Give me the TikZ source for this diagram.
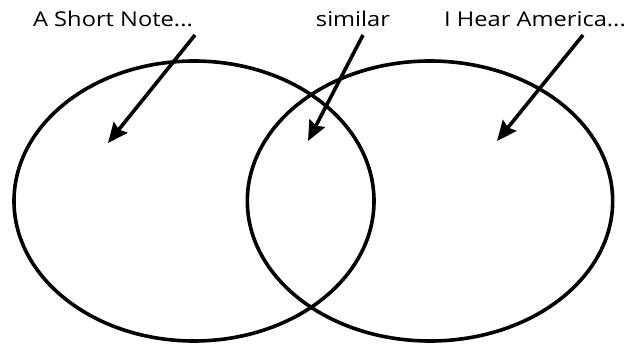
\documentclass[tikz,border=0pt]{standalone}
\usepackage{fontspec}
\setmainfont{Open Sans}[FakeStretch=1.16]
\usetikzlibrary{arrows.meta, shapes.geometric}

\begin{document}
\begin{tikzpicture}[x=0.75pt, y=-0.75pt,
  setring/.style={draw, ellipse, line width=2.7pt, inner sep=0pt,
                  minimum height=210pt},
  label/.style={anchor=base, inner sep=0pt, font=\fontsize{15.3}{18}\selectfont},
  pointer/.style={-{Stealth[length=15pt, width=13pt, inset=2pt]}, line width=2.7pt}]

  \useasboundingbox (0,0) rectangle (629,347);

  % the two sets
  \node[setring, minimum width=270pt] (noteSet)    at (194,201) {};
  \node[setring, minimum width=274pt] (americaSet) at (430,201) {};

  % labels
  \node[label] (noteLabel)    at (113,26.5) {A Short Note...};
  \node[label] (similarLabel) at (353,26.5) {similar};
  \node[label] (americaLabel) at (535,26.5) {I Hear America...};

  % pointer ends
  \coordinate (noteFrom)    at (195,35);
  \coordinate (noteTo)      at (108,143);
  \coordinate (similarFrom) at (363,35);
  \coordinate (similarTo)   at (308,141);
  \coordinate (americaFrom) at (583,35);
  \coordinate (americaTo)   at (497,141);

  \draw[pointer] (noteFrom) -- (noteTo);
  \draw[pointer] (similarFrom) -- (similarTo);
  \draw[pointer] (americaFrom) -- (americaTo);
\end{tikzpicture}
\end{document}
